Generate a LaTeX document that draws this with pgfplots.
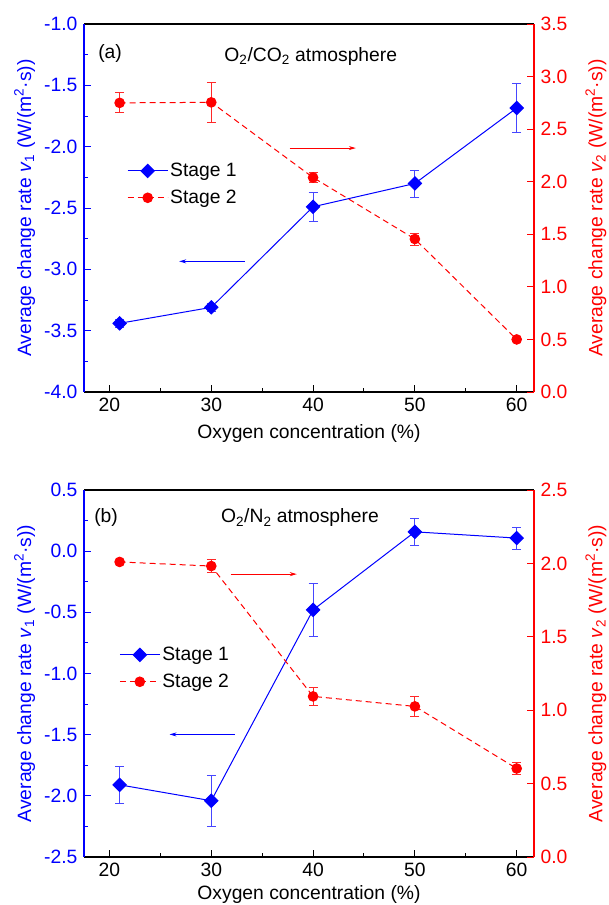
\documentclass[border=0pt]{standalone}
\usepackage{pgfplots}
\pgfplotsset{compat=1.18}
\usepackage{pgfplotstable}
\usepackage{fontspec}
\setmainfont{Liberation Sans}
\usetikzlibrary{arrows.meta}
\newcommand\fs{\fontsize{19.3}{22}\selectfont}
\definecolor{myblue}{RGB}{0,0,255}
\definecolor{myred}{RGB}{255,0,0}
\definecolor{errblue}{RGB}{70,70,255}
\definecolor{errred}{RGB}{255,40,40}

\pgfplotstableread{
x y e
21 -3.44 0.035
30 -3.31 0.035
40 -2.49 0.12
50 -2.30 0.11
60 -1.685 0.20
}\topA
\pgfplotstableread{
x y e
21 2.75 0.095
30 2.755 0.19
40 2.04 0.045
50 1.455 0.057
60 0.50 0.02
}\topB
\pgfplotstableread{
x y e
21 -1.91 0.15
30 -2.04 0.21
40 -0.48 0.22
50 0.158 0.11
60 0.107 0.09
}\botA
\pgfplotstableread{
x y e
21 2.01 0.01
30 1.982 0.043
40 1.094 0.064
50 1.026 0.068
60 0.603 0.04
}\botB

\pgfplotsset{
  base/.style={
    scale only axis, width=450pt, height=368pt,
    xmin=17.5, xmax=61.7,
    tick align=inside,
    major tick length=7pt, minor tick length=4pt,
    /pgf/number format/assume math mode=true,
    font=\fs, tick label style={font=\fs}, label style={font=\fs},
    axis line style={line width=1.3pt},
    every tick/.style={line width=1pt},
    yticklabel style={/pgf/number format/fixed, /pgf/number format/fixed zerofill, /pgf/number format/precision=1},
    legend image code/.code={\draw[mark repeat=2,mark phase=2,#1] plot coordinates {(0pt,0pt) (20pt,0pt) (40pt,0pt)};},
  },
  leftax/.style={base,
    separate axis lines,
    x axis line style={black},
    y axis line style={myblue},
    xtick={20,30,40,50,60}, minor x tick num=1,
    xtick pos=left, ytick pos=left,
    ytick distance=0.5, minor y tick num=1,
    xtick style={black}, ytick style={myblue},
    xticklabel style={yshift=1pt},
    yticklabel style={text=myblue},
    ylabel style={text=myblue, yshift=-4pt},
    xlabel={Oxygen concentration (\%)},
    ylabel={Average change rate \textit{v}\textsubscript{1} (W/(m\textsuperscript{2}·s))},
  },
  rightax/.style={base,
    axis x line=none,
    axis y line*=right,
    y axis line style={myred},
    ytick distance=0.5, minor y tick num=0,
    ytick style={myred},
    yticklabel style={text=myred},
    ylabel style={text=myred, yshift=-5pt},
    ylabel={Average change rate \textit{v}\textsubscript{2} (W/(m\textsuperscript{2}·s))},
  },
  sA/.style={color=myblue, solid, line width=1pt, mark=square*, mark size=4.7pt, mark options={rotate=45, solid, fill=myblue, draw=myblue}},
  sB/.style={color=myred, dash pattern=on 6pt off 4pt, line width=1pt, mark=*, mark size=4.8pt, mark options={solid, fill=myred, draw=myred}},
  leg/.style={legend style={draw=none, fill=none, anchor=north west, inner sep=0pt, row sep=6.5pt, nodes={inner sep=2pt}, font=\fs}, legend cell align=left},
}

\begin{document}
\fs
\begin{tikzpicture}
\path[use as bounding box] (0,0) rectangle (609pt,-905pt);

% ---------- panel (a) ----------
\begin{axis}[leftax, at={(84pt,-392pt)}, anchor=south west, ymin=-4, ymax=-1]
\addplot[sA,
  error bars/y dir=both, error bars/y explicit,
  error bars/error bar style={color=errblue, line width=0.8pt, solid},
  error bars/error mark options={rotate=90, mark size=4.5pt, line width=0.8pt, color=errblue}]
  table[x=x, y=y, y error=e] {\topA};
\draw[myblue, line width=0.8pt, -{Stealth[length=7pt,width=4pt]}] (axis cs:33.3,-2.935) -- (axis cs:26.85,-2.935);
\node at (rel axis cs:0.058,0.921) {(a)};
\node at (rel axis cs:0.504,0.913) {O\textsubscript{2}/CO\textsubscript{2} atmosphere};
\end{axis}
\begin{axis}[rightax, leg, at={(84pt,-392pt)}, anchor=south west, ymin=0, ymax=3.5,
  legend style={at={(0.0956,0.629)}}]
\addlegendimage{sA}
\addlegendentry{Stage 1}
\addplot[sB,
  error bars/y dir=both, error bars/y explicit,
  error bars/error bar style={color=errred, line width=0.8pt, solid},
  error bars/error mark options={rotate=90, mark size=4.5pt, line width=0.8pt, color=errred}]
  table[x=x, y=y, y error=e] {\topB};
\addlegendentry{Stage 2}
\draw[myred, line width=0.8pt, -{Stealth[length=7pt,width=4pt]}] (axis cs:37.7,2.32) -- (axis cs:44.2,2.32);
\end{axis}

% ---------- panel (b) ----------
\begin{axis}[leftax, at={(84pt,-857pt)}, anchor=south west, ymin=-2.5, ymax=0.5,
  height=367pt, xlabel style={yshift=4pt}]
\addplot[sA,
  error bars/y dir=both, error bars/y explicit,
  error bars/error bar style={color=errblue, line width=0.8pt, solid},
  error bars/error mark options={rotate=90, mark size=4.5pt, line width=0.8pt, color=errblue}]
  table[x=x, y=y, y error=e] {\botA};
\draw[myblue, line width=0.8pt, -{Stealth[length=7pt,width=4pt]}] (axis cs:32.3,-1.498) -- (axis cs:25.9,-1.498);
\node at (rel axis cs:0.049,0.924) {(b)};
\node at (rel axis cs:0.48,0.924) {O\textsubscript{2}/N\textsubscript{2} atmosphere};
\end{axis}
\begin{axis}[rightax, leg, at={(84pt,-857pt)}, anchor=south west, ymin=0, ymax=2.5,
  height=367pt, legend style={at={(0.078,0.579)}}]
\addlegendimage{sA}
\addlegendentry{Stage 1}
\addplot[sB,
  error bars/y dir=both, error bars/y explicit,
  error bars/error bar style={color=errred, line width=0.8pt, solid},
  error bars/error mark options={rotate=90, mark size=4.5pt, line width=0.8pt, color=errred}]
  table[x=x, y=y, y error=e] {\botB};
\addlegendentry{Stage 2}
\draw[myred, line width=0.8pt, -{Stealth[length=7pt,width=4pt]}] (axis cs:31.9,1.927) -- (axis cs:38.4,1.927);
\end{axis}
\end{tikzpicture}
\end{document}
